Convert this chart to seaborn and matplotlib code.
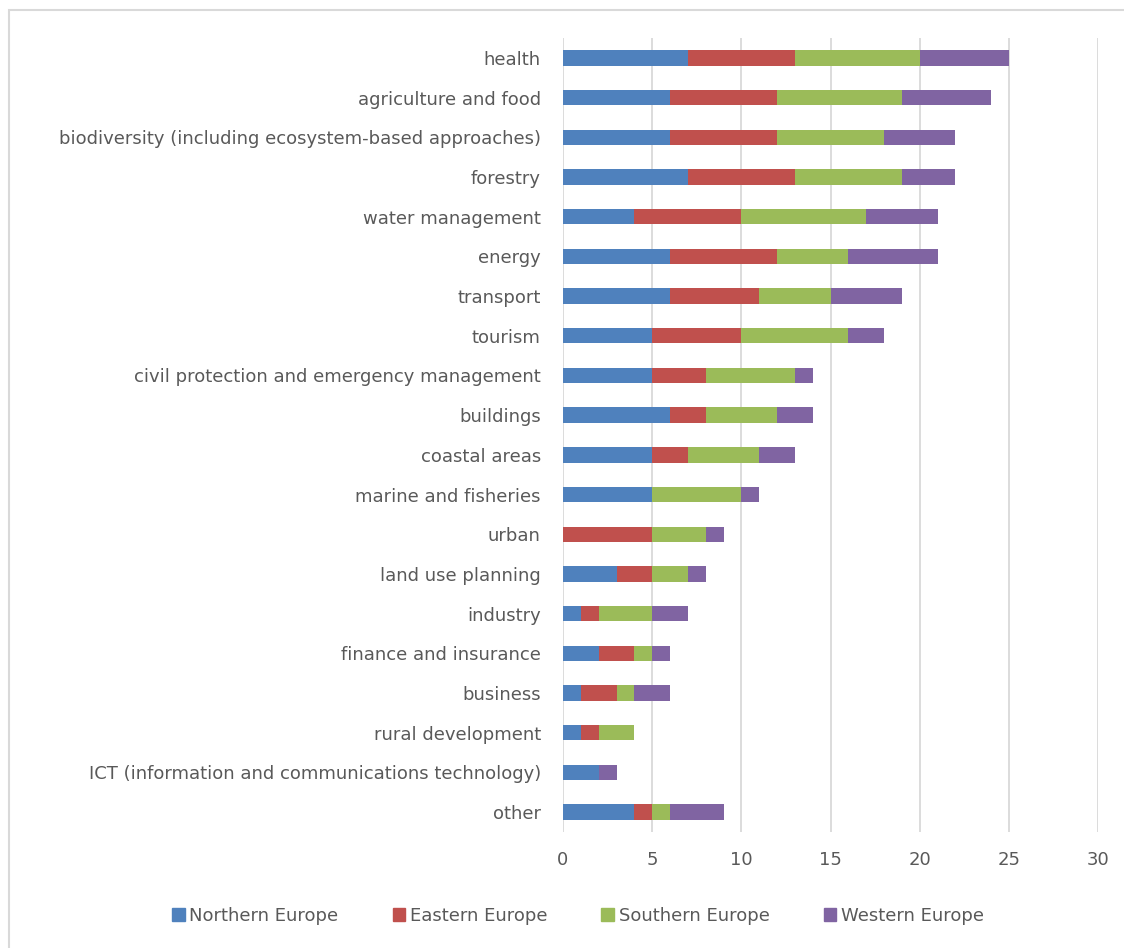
import numpy as np
import pandas as pd
import matplotlib
matplotlib.use("Agg")
import matplotlib.pyplot as plt
import matplotlib.patches as mpatches
import seaborn as sns

categories = [
    "health", "agriculture and food",
    "biodiversity (including ecosystem-based approaches)", "forestry",
    "water management", "energy", "transport", "tourism",
    "civil protection and emergency management", "buildings",
    "coastal areas", "marine and fisheries", "urban", "land use planning",
    "industry", "finance and insurance", "business", "rural development",
    "ICT (information and communications technology)", "other",
]
northern = [7, 6, 6, 7, 4, 6, 6, 5, 5, 6, 5, 5, 0, 3, 1, 2, 1, 1, 2, 4]
eastern  = [6, 6, 6, 6, 6, 6, 5, 5, 3, 2, 2, 0, 5, 2, 1, 2, 2, 1, 0, 1]
southern = [7, 7, 6, 6, 7, 4, 4, 6, 5, 4, 4, 5, 3, 2, 3, 1, 1, 2, 0, 1]
western  = [5, 5, 4, 3, 4, 5, 4, 2, 1, 2, 2, 1, 1, 1, 2, 1, 2, 0, 1, 3]

series_names = ["Northern Europe", "Eastern Europe", "Southern Europe", "Western Europe"]
series_vals = [northern, eastern, southern, western]
colors = ["#4F81BD", "#C0504D", "#9BBB59", "#8064A2"]
x_ticks = [0, 5, 10, 15, 20, 25, 30]

sns.set_theme(style="white")
plt.rcParams["font.family"] = ["DejaVu Sans"]

df = pd.DataFrame({"category": categories})
for name, vals in zip(series_names, series_vals):
    df[name] = vals
cum = df[series_names].cumsum(axis=1)

W, H = 1124, 948
fig = plt.figure(figsize=(W / 100, H / 100), dpi=100)
ax = fig.add_axes([563 / W, 1 - 832 / H, (1098 - 563) / W, (832 - 38) / H])

for i in range(len(series_names) - 1, -1, -1):
    d = pd.DataFrame({"category": categories, "value": cum[series_names[i]].values})
    sns.barplot(data=d, x="value", y="category", order=categories, orient="h",
                color=colors[i], saturation=1, width=0.39, ax=ax, zorder=3,
                linewidth=0)

ax.set_xlim(0, 30)
ax.set_ylim(len(categories) - 0.5, -0.5)
ax.set_xticks(x_ticks)
ax.set_xticklabels([str(t) for t in x_ticks])
ax.grid(axis="x", color="#D9D9D9", linewidth=1.3, zorder=0)
ax.grid(axis="y", visible=False)
for s in ax.spines.values():
    s.set_visible(False)
ax.set_xlabel("")
ax.set_ylabel("")
ax.tick_params(axis="y", length=0, pad=16, labelsize=13, labelcolor="#595959")
ax.tick_params(axis="x", length=0, pad=14, labelsize=13, labelcolor="#595959")

handles = [mpatches.Patch(color=c, label=n) for c, n in zip(colors, series_names)]
fig.legend(handles=handles, loc="center", bbox_to_anchor=(578 / W, 1 - 916 / H),
           ncol=4, frameon=False, handlelength=0.7, handleheight=0.7,
           handletextpad=0.25, columnspacing=3.0, fontsize=13,
           labelcolor="#595959")

# chart-area border
fig.patches.append(mpatches.Rectangle((8.5 / W, -0.05), 1.2, 1 - 9.5 / H + 0.05,
                                      transform=fig.transFigure, fill=False,
                                      edgecolor="#D9D9D9", linewidth=1.5))

fig.savefig("out.png", dpi=100, facecolor="white")
